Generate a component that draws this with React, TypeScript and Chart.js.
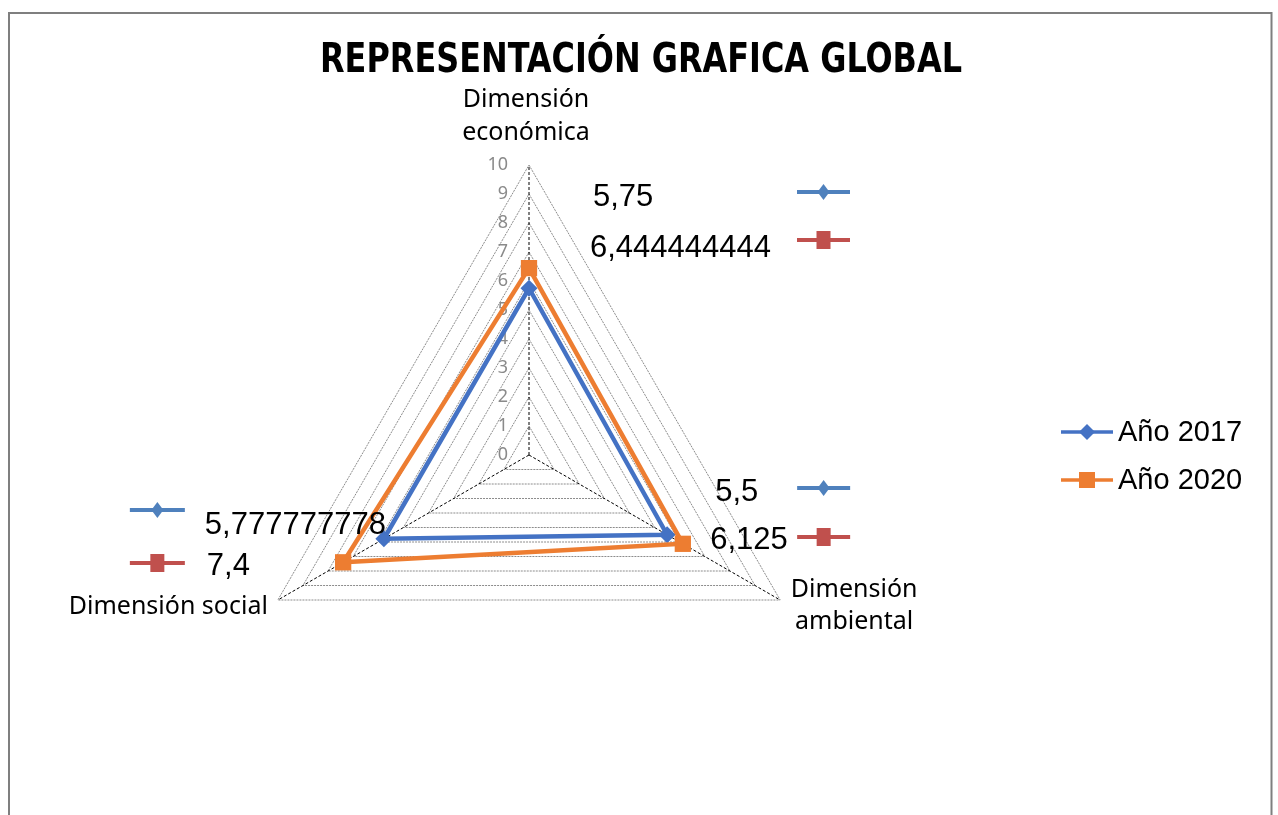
import React, { useEffect, useRef } from "react";
import { Chart, registerables } from "chart.js";

Chart.register(...registerables);

const categories = ["Dimensión económica", "Dimensión ambiental", "Dimensión social"];
const seriesNames = ["Año 2017", "Año 2020"];
const values2017 = [5.75, 5.5, 5.777777778];
const values2020 = [6.444444444, 6.125, 7.4];
const valueLabels2017 = ["5,75", "5,5", "5,777777778"];
const valueLabels2020 = ["6,444444444", "6,125", "7,4"];
const tickValues = [0, 1, 2, 3, 4, 5, 6, 7, 8, 9, 10];
const titleText = "REPRESENTACIÓN GRAFICA GLOBAL";

const BLUE = "#4472C4";
const ORANGE = "#ED7D31";
const KEY_BLUE = "#4F81BD";
const KEY_RED = "#C0504D";

function diamond(ctx: CanvasRenderingContext2D, x: number, y: number, hw: number, hh: number, color: string) {
  ctx.beginPath();
  ctx.moveTo(x, y - hh);
  ctx.lineTo(x + hw, y);
  ctx.lineTo(x, y + hh);
  ctx.lineTo(x - hw, y);
  ctx.closePath();
  ctx.fillStyle = color;
  ctx.fill();
}

function keyLine(ctx: CanvasRenderingContext2D, x1: number, x2: number, y: number, color: string, marker: "diamond" | "square", w = 4) {
  ctx.save();
  ctx.strokeStyle = color;
  ctx.lineWidth = w;
  ctx.beginPath();
  ctx.moveTo(x1, y);
  ctx.lineTo(x2, y);
  ctx.stroke();
  const mx = (x1 + x2) / 2;
  if (marker === "diamond") diamond(ctx, mx, y, 6, 8, color);
  else {
    ctx.fillStyle = color;
    ctx.fillRect(mx - 7, y - 9, 14, 18);
  }
  ctx.restore();
}

// offsets (relative to each axis' outer vertex) for the Excel-style value label blocks
const labelLayout = [
  { t1: [64, 32], k1: [268, 321, 27], t2: [61, 83], k2: [268, 321, 75] },
  { t1: [-65, -108], k1: [17, 70, -112], t2: [-70, -60], k2: [17, 70, -63] },
  { t1: [-73, -75], k1: [-148, -93, -90], t2: [-71, -34], k2: [-148, -93, -37] },
];

const customPlugin = {
  id: "customDecor",
  beforeDraw(chart: any) {
    const ctx = chart.ctx as CanvasRenderingContext2D;
    ctx.save();
    ctx.fillStyle = "#ffffff";
    ctx.fillRect(0, 0, chart.width, chart.height);
    ctx.strokeStyle = "#7f7f7f";
    ctx.lineWidth = 2;
    ctx.strokeRect(9, 13, 1262.5, 900);
    ctx.restore();
  },
  beforeDatasetsDraw(chart: any) {
    const ctx = chart.ctx as CanvasRenderingContext2D;
    const scale = chart.scales.r;
    ctx.save();
    ctx.fillStyle = "#8a8a8a";
    ctx.font = "18px 'Noto Sans'";
    ctx.textAlign = "right";
    ctx.textBaseline = "middle";
    tickValues.forEach((v) => {
      const d = scale.getDistanceFromCenterForValue(v);
      ctx.fillText(String(v), scale.xCenter - 21, scale.yCenter - d);
    });
    ctx.restore();
  },
  afterDraw(chart: any) {
    const ctx = chart.ctx as CanvasRenderingContext2D;
    const scale = chart.scales.r;
    ctx.save();
    // title
    ctx.fillStyle = "#000";
    ctx.font = "bold 41px 'Liberation Sans Narrow', 'DejaVu Sans Condensed', sans-serif";
    ctx.textAlign = "center";
    ctx.textBaseline = "middle";
    ctx.fillText(titleText, 641, 61, 642);

    // axis labels
    ctx.font = "25px 'Noto Sans'";
    const top = scale.getPointPositionForValue(0, 10);
    const right = scale.getPointPositionForValue(1, 10);
    const left = scale.getPointPositionForValue(2, 10);
    const [c0a, c0b] = categories[0].split(" ");
    ctx.textAlign = "center";
    ctx.fillText(c0a, top.x - 3, top.y - 65);
    ctx.fillText(c0b, top.x - 3, top.y - 32);
    const [c1a, c1b] = categories[1].split(" ");
    ctx.fillText(c1a, right.x + 74, right.y - 10);
    ctx.fillText(c1b, right.x + 74, right.y + 22);
    ctx.textAlign = "right";
    ctx.fillText(categories[2], left.x - 10, left.y + 7);

    // value label blocks
    ctx.font = "31px 'Liberation Sans', Arial, sans-serif";
    ctx.textAlign = "left";
    [top, right, left].forEach((p, i) => {
      const L = labelLayout[i];
      keyLine(ctx, p.x + L.k1[0], p.x + L.k1[1], p.y + L.k1[2], KEY_BLUE, "diamond");
      keyLine(ctx, p.x + L.k2[0], p.x + L.k2[1], p.y + L.k2[2], KEY_RED, "square");
      ctx.fillStyle = "#000";
      ctx.fillText(valueLabels2017[i], p.x + L.t1[0], p.y + L.t1[1]);
      ctx.fillText(valueLabels2020[i], p.x + L.t2[0], p.y + L.t2[1]);
    });

    // legend
    ctx.font = "29px 'Liberation Sans', Arial, sans-serif";
    ctx.textAlign = "left";
    const lx1 = 1061, lx2 = 1113, ly = [432, 480];
    ctx.save();
    ctx.lineWidth = 3.5;
    ctx.strokeStyle = BLUE;
    ctx.beginPath(); ctx.moveTo(lx1, ly[0]); ctx.lineTo(lx2, ly[0]); ctx.stroke();
    diamond(ctx, (lx1 + lx2) / 2, ly[0], 8, 8, BLUE);
    ctx.strokeStyle = ORANGE;
    ctx.beginPath(); ctx.moveTo(lx1, ly[1]); ctx.lineTo(lx2, ly[1]); ctx.stroke();
    ctx.fillStyle = ORANGE;
    ctx.fillRect((lx1 + lx2) / 2 - 8, ly[1] - 8, 16, 16);
    ctx.restore();
    ctx.fillStyle = "#000";
    ctx.fillText(seriesNames[0], 1118, ly[0] + 1);
    ctx.fillText(seriesNames[1], 1118, ly[1] + 1);
    ctx.restore();
  },
};

export default function App() {
  const ref = useRef<HTMLCanvasElement | null>(null);
  useEffect(() => {
    if (!ref.current) return;
    const chart = new Chart(ref.current, {
      type: "radar",
      data: {
        labels: categories,
        datasets: [
          {
            label: seriesNames[0],
            data: values2017,
            borderColor: BLUE,
            backgroundColor: BLUE,
            borderWidth: 4.5,
            fill: false,
            pointStyle: "rectRot",
            pointRadius: 8.5,
            pointBackgroundColor: BLUE,
            pointBorderWidth: 0,
            order: 1,
          },
          {
            label: seriesNames[1],
            data: values2020,
            borderColor: ORANGE,
            backgroundColor: ORANGE,
            borderWidth: 4.5,
            fill: false,
            pointStyle: "rect",
            pointRadius: 11.5,
            pointBackgroundColor: ORANGE,
            pointBorderWidth: 0,
            order: 0,
          },
        ],
      },
      options: {
        animation: false,
        responsive: false,
        devicePixelRatio: 1,
        layout: { padding: { left: 239, right: 459, top: 165, bottom: 70 } },
        plugins: { legend: { display: false }, title: { display: false }, tooltip: { enabled: false } },
        elements: { line: { tension: 0 } },
        scales: {
          r: {
            min: 0,
            max: 10,
            ticks: { stepSize: 1, display: false, showLabelBackdrop: false },
            pointLabels: { display: false },
            grid: { color: "#8c8c8c", lineWidth: 1 },
            border: { dash: [2, 1] },
            angleLines: { color: "#000000", lineWidth: 1, borderDash: [3, 2] },
          },
        },
      },
      plugins: [customPlugin],
    } as any);
    return () => chart.destroy();
  }, []);
  return (
    <div style={{ position: "absolute", left: 0, top: 0, width: 1278, height: 815 }}>
      <canvas ref={ref} width={1278} height={815} />
    </div>
  );
}
